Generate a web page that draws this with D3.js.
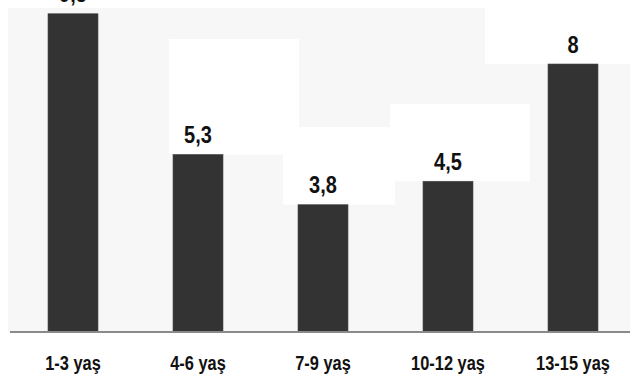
<!DOCTYPE html>
<html>
<head>
<meta charset="utf-8">
<script src="https://cdn.jsdelivr.net/npm/d3@7/dist/d3.min.js"></script>
<style>
  html, body { margin: 0; padding: 0; background: #ffffff; }
  svg { display: block; }
</style>
</head>
<body>
<svg id="chart" width="630" height="376"></svg>
<script>
// ---- data ----
const categories = ["1-3 yaş", "4-6 yaş", "7-9 yaş", "10-12 yaş", "13-15 yaş"];
const values = [9.5, 5.3, 3.8, 4.5, 8];

// ---- layout ----
const W = 630, H = 376;
const baseY = 332;
const svg = d3.select("#chart");
const fontFam = "'Liberation Sans', Arial, sans-serif";
const narrowVal = 0.87; // horizontal compression to mimic a narrow face
const narrowCat = 0.78;

const x = d3.scaleBand()
  .domain(categories)
  .range([10.5, 635.5])
  .paddingInner(0.6)
  .paddingOuter(0.3);

const y = d3.scaleLinear()
  .domain([0, 8])
  .range([baseY, 64]);

// plot background
svg.append("rect")
  .attr("x", 8).attr("y", 8)
  .attr("width", W - 8).attr("height", baseY - 8)
  .attr("fill", "#f7f7f7");

// white label patches (background artefacts of the original image)
const patches = [
  { x0: 169, x1: 299, top: 39, v: 5.3 },
  { x0: 283, x1: 395, top: 127, v: 3.8 },
  { x0: 390, x1: 530, top: 104, v: 4.5 },
  { x0: 485, x1: 630, top: 0, v: 8 }
];
svg.selectAll("rect.patch")
  .data(patches)
  .join("rect")
  .attr("class", "patch")
  .attr("x", d => d.x0)
  .attr("y", d => d.top)
  .attr("width", d => d.x1 - d.x0)
  .attr("height", d => y(d.v) - d.top)
  .attr("fill", "#ffffff");

// bars
svg.selectAll("rect.bar")
  .data(values)
  .join("rect")
  .attr("class", "bar")
  .attr("x", (d, i) => x(categories[i]))
  .attr("y", d => y(d))
  .attr("width", x.bandwidth())
  .attr("height", d => baseY - y(d))
  .attr("fill", "#333333")
  .attr("stroke", "#4a4a4a")
  .attr("stroke-width", 0.6);

// baseline
svg.append("line")
  .attr("x1", 10).attr("x2", W)
  .attr("y1", baseY).attr("y2", baseY)
  .attr("stroke", "#8a8a8a")
  .attr("stroke-width", 2);

// value labels
const fmt = v => String(v).replace(".", ",");
svg.selectAll("text.val")
  .data(values)
  .join("text")
  .attr("class", "val")
  .attr("transform", (d, i) =>
    `translate(${x(categories[i]) + x.bandwidth() / 2}, ${y(d) - 11.5}) scale(${narrowVal}, 1)`)
  .attr("text-anchor", "middle")
  .attr("font-family", fontFam)
  .attr("font-weight", "bold")
  .attr("font-size", 23)
  .attr("fill", "#111111")
  .text(d => fmt(d));

// category axis labels
const xAxis = d3.axisBottom(x).tickSize(0).tickPadding(0);
const gx = svg.append("g")
  .attr("transform", `translate(0, ${baseY})`)
  .call(xAxis);
gx.select(".domain").remove();
gx.selectAll("text")
  .attr("y", 0)
  .attr("dy", 0)
  .attr("transform", `translate(0, 38) scale(${narrowCat}, 1)`)
  .attr("font-family", fontFam)
  .attr("font-weight", "bold")
  .attr("font-size", 21)
  .attr("fill", "#111111");
</script>
</body>
</html>
